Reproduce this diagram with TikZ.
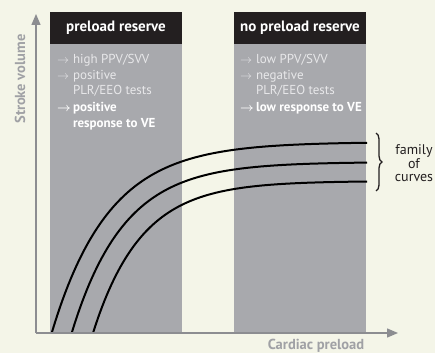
\documentclass[tikz,border=0pt]{standalone}
\usepackage{fontspec}
\setmainfont{PT Sans}
\usetikzlibrary{decorations.pathreplacing,arrows.meta}
\definecolor{bg}{HTML}{F4F5E8}
\definecolor{panel}{HTML}{A8A9AD}
\definecolor{head}{HTML}{231F20}
\definecolor{axisgray}{HTML}{8C8D91}
\definecolor{labelgray}{HTML}{A0A1A5}
\definecolor{bodytext}{HTML}{E8E8EA}
\newcommand{\ar}{\(\rightarrow\)}
\newcommand{\boldar}{{\boldmath\(\rightarrow\)}}
\begin{document}
\begin{tikzpicture}[x=1pt,y=-1pt,
  panelbox/.style={fill=panel},
  headbox/.style={fill=head},
  headtext/.style={text=white,font=\fontsize{15}{16}\selectfont\bfseries,inner sep=0},
  bodybox/.style={text=bodytext,font=\fontsize{13}{16}\selectfont,inner sep=0,anchor=base west},
  axisline/.style={draw=axisgray,line width=1.4pt,-{Triangle[length=11pt,width=9pt]}},
  axislabel/.style={text=labelgray,font=\fontsize{14.5}{16}\selectfont\bfseries,inner sep=0},
  curve/.style={draw=black,line width=2pt},
  bracestyle/.style={draw=head,line width=1.3pt,decorate,decoration={brace,amplitude=6pt}},
]
\fill[bg] (0,0) rectangle (435,353);
\useasboundingbox (0,0) rectangle (435,353);

% shaded regions with their headers
\fill[panelbox] (50,12) rectangle (182,333);
\fill[headbox] (50,12) rectangle (182,44);
\fill[panelbox] (234,12) rectangle (366,333);
\fill[headbox] (234,12) rectangle (366,44);

\node[headtext] (h1) at (116,28) {preload reserve};
\node[headtext] (h2) at (300,28) {no preload reserve};

\node[bodybox] (b1) at (57,63) {\begin{tabular}[t]{@{}l@{\hspace{2pt}}l@{}}
\ar & high PPV/SVV\\
\ar & positive\\
    & PLR/EEO tests\\
\textcolor{white}{\boldar} & \textcolor{white}{\bfseries positive}\\
    & \textcolor{white}{\bfseries response to VE}
\end{tabular}};

\node[bodybox] (b2) at (240,63) {\begin{tabular}[t]{@{}l@{\hspace{2pt}}l@{}}
\ar & low PPV/SVV\\
\ar & negative\\
    & PLR/EEO tests\\
\textcolor{white}{\boldar} & \textcolor{white}{\bfseries low response to VE}
\end{tabular}};

% Frank--Starling curves
\draw[curve] plot[domain=52:367,samples=120] (\x,{142+190*exp(-(\x-52)/57)});
\draw[curve] plot[domain=72:367,samples=120] (\x,{162+170*exp(-(\x-72)/52)});
\draw[curve] plot[domain=93:367,samples=120] (\x,{181+152*exp(-(\x-93)/48)});

% axes
\coordinate (o) at (36,333);
\coordinate (ytip) at (36,14);
\coordinate (xtip) at (398,333);
\draw[axisline] (o) -- (ytip);
\draw[axisline] (o) -- (xtip);
\node[axislabel,rotate=90] (ylab) at (20,79) {Stroke volume};
\node[axislabel] (xlab) at (316,346) {Cardiac preload};

% brace and its label
\coordinate (btop) at (376,133);
\coordinate (bbot) at (376,191);
\draw[bracestyle] (btop) -- (bbot);
\node[align=center,text=head,font=\fontsize{14}{12.5}\selectfont,inner sep=0] (fam) at (414,163) {family\\of\\curves};
\end{tikzpicture}
\end{document}
